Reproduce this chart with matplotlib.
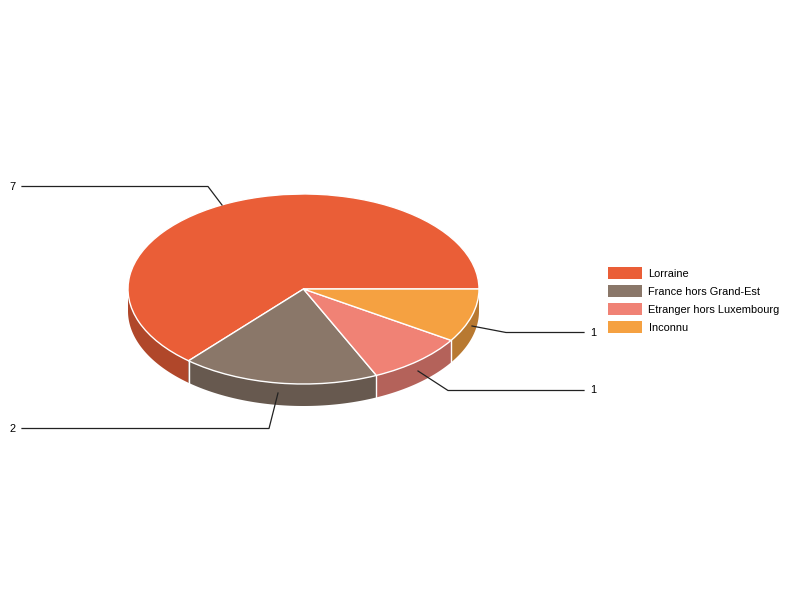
import numpy as np
import matplotlib
matplotlib.use('Agg')
import matplotlib.pyplot as plt
from matplotlib.lines import Line2D
from matplotlib.patches import Rectangle

plt.rcParams['font.family'] = ['Liberation Sans', 'DejaVu Sans']

categories = ['Lorraine', 'France hors Grand-Est', 'Etranger hors Luxembourg', 'Inconnu']
values = [7, 2, 1, 1]
top_colors = ['#EA5E37', '#8A7769', '#F08275', '#F5A141']
side_colors = ['#B0472A', '#67594F', '#B4625A', '#B87931']

# leader lines in pixels, from the slice to the label
leaders = [[(222, 205), (208, 186.5), (22, 186.5)],
           [(278, 393), (269, 428.5), (22, 428.5)],
           [(418, 371), (448, 390.5), (584, 390.5)],
           [(472, 326), (506, 332.5), (584, 332.5)]]
label_pos = [(9.5, 187), (9.5, 429), (590.5, 390), (590.5, 333)]

cx, cy, rx, ry, depth = 303.5, 289, 175.5, 95, 22
W, H = 800, 600

def fx(px):
    return px / W

def fy(py):
    return 1 - py / H

fig = plt.figure(figsize=(8, 6), dpi=100)
ax = fig.add_axes([0, 0, 1, 1])

wedges, _ = ax.pie(values, colors=top_colors, startangle=0, counterclock=True,
                   wedgeprops={'edgecolor': 'white', 'linewidth': 1.0, 'zorder': 3})

# pie is drawn on a unit circle, the axes limits squash it to an ellipse
ax.set_aspect('auto')
ax.set_xlim(-cx / rx, (W - cx) / rx)
ax.set_ylim((cy - H) / ry, cy / ry)

# side walls, only the part of each slice on the front of the pie
d = depth / ry
angles = np.cumsum([0] + values) / sum(values) * 360
for i in range(len(values)):
    a0 = max(angles[i], 180)
    a1 = angles[i + 1]
    if a1 <= a0:
        continue
    t = np.radians(np.linspace(a0, a1, 80))
    xs = np.cos(t)
    ys = np.sin(t)
    ax.fill(np.r_[xs, xs[::-1]], np.r_[ys, ys[::-1] - d], color=side_colors[i], lw=0, zorder=2)
    # white seam at the start of the wall
    if angles[i] >= 180:
        ax.plot([xs[0], xs[0]], [ys[0], ys[0] - d], color='white', lw=1.0, zorder=2.5)

for pts, val, pos in zip(leaders, values, label_pos):
    fig.add_artist(Line2D([fx(p[0]) for p in pts], [fy(p[1]) for p in pts],
                          color='#222222', lw=0.9, zorder=5))
    fig.text(fx(pos[0]), fy(pos[1]), str(val), fontsize=7.9, ha='left', va='center', color='black')

# legend
rows = [273, 291, 309, 327]
for name, col, y in zip(categories, top_colors, rows):
    fig.add_artist(Rectangle((fx(608), fy(y + 6)), 34 / W, 12 / H, facecolor=col, edgecolor='none',
                             transform=fig.transFigure))
    fig.text(fx(648.5), fy(y + 1), name, fontsize=7.9, ha='left', va='center', color='black')

fig.savefig('out.png', dpi=100)
